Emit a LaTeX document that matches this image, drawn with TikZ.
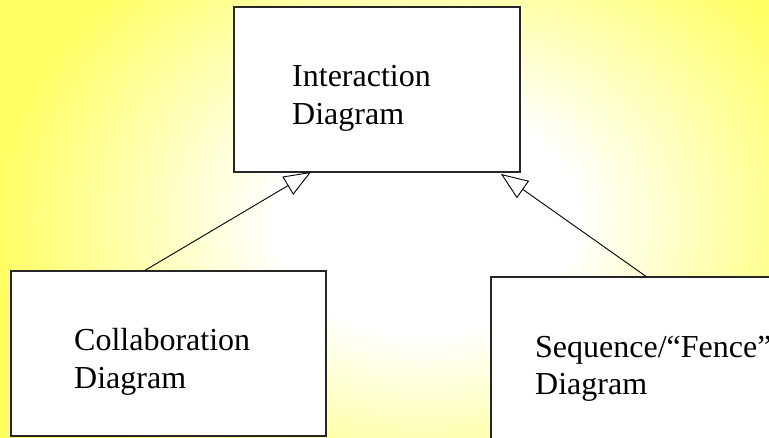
\documentclass[tikz,border=0pt]{standalone}
\usepackage{fontspec}
\setmainfont{Liberation Serif}
\usetikzlibrary{arrows.meta}
\definecolor{bgyellow}{RGB}{255,255,100}
\pgfdeclareradialshading{bgshade}{\pgfpoint{0bp}{0bp}}{%
  color(0bp)=(white); color(8.75bp)=(white); color(25bp)=(bgyellow); color(50bp)=(bgyellow)}
\tikzset{
  box/.style={draw=black!85, line width=1.2pt, fill=white, rectangle, inner sep=0pt},
  lbl/.style={anchor=base west, inner sep=0pt, font=\fontsize{32}{38}\selectfont},
  gen/.style={draw=black, line width=0.9pt,
    -{Triangle[length=27pt,width=21pt,fill=white,line width=0.9pt]}}
}
\begin{document}
\begin{tikzpicture}[x=1pt,y=1pt]
\clip (0,0) rectangle (769,438);
% background: elliptical white-to-yellow gradient
\fill[bgyellow] (0,0) rectangle (769,438);
\shade[shading=bgshade] (-5,-111) rectangle (855,549);
% boxes
\node[box, minimum width=286pt, minimum height=165pt] (inter) at (377,348.5) {};
\node[box, minimum width=315pt, minimum height=165pt] (collab) at (168.5,84.5) {};
\node[box, minimum width=310pt, minimum height=190pt] (seq) at (646,66) {};
% labels
\node[lbl] (interA) at (292,351) {Interaction};
\node[lbl] (interB) at (292,313) {Diagram};
\node[lbl] (collabA) at (74,87) {Collaboration};
\node[lbl] (collabB) at (74,49) {Diagram};
\node[lbl] (seqA) at (535,80) {Sequence/“Fence”};
\node[lbl] (seqB) at (535,43) {Diagram};
% generalization arrows
\coordinate (tipL) at (311,266);
\coordinate (tipR) at (501,264);
\draw[gen] (collab.north -| 145,0) -- (tipL);
\draw[gen] (seq.north -| 646,0) -- (tipR);
\end{tikzpicture}
\end{document}
